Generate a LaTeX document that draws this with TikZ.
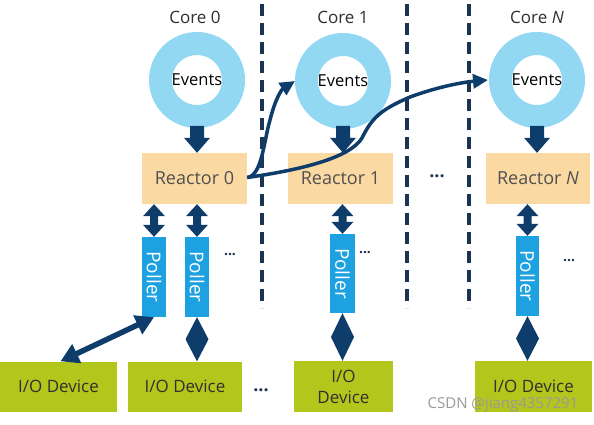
\documentclass[tikz,border=0pt]{standalone}
\usepackage{fontspec}
\setmainfont{Open Sans}
\usetikzlibrary{calc,arrows.meta}
\definecolor{navy}{HTML}{0E3C6B}
\definecolor{ringc}{HTML}{93D8F3}
\definecolor{reac}{HTML}{FBD9A2}
\definecolor{pollc}{HTML}{1DA1E0}
\definecolor{ioc}{HTML}{B3C61C}
\definecolor{txt}{HTML}{505050}
\definecolor{dtxt}{HTML}{303030}
\definecolor{sepc}{HTML}{1C3452}
\definecolor{wm}{HTML}{9A9A9A}
\newcommand{\rpArrow}[2]{\fill[navy] (#1) -- ++(11,12) -- ++(-7,0) -- ($(#2)+(4,-12)$) -- ++(7,0) -- (#2) -- ++(-11,-12) -- ++(7,0) -- ($(#1)+(-4,12)$) -- ++(-7,0) -- cycle;}
\newcommand{\pdArrow}[2]{\fill[navy] (#1) -- ($(#1)!0.5!(#2)+(11.5,0)$) -- (#2) -- ($(#1)!0.5!(#2)+(-11.5,0)$) -- cycle;}
\newcommand{\evArrow}[1]{\fill[navy] (#1) -- ++(-13,-15) -- ++(6,0) -- ++(0,-12) -- ++(14,0) -- ++(0,12) -- ++(6,0) -- cycle;}
\begin{document}
\begin{tikzpicture}[x=1pt,y=-1pt, font=\fontsize{17}{20}\selectfont,
 ring/.style={circle, draw=ringc, line width=23pt, minimum size=73pt, inner sep=0pt, text=black, font=\fontsize{16.5}{18}\selectfont},
 reactor/.style={rectangle, fill=reac, minimum width=105pt, minimum height=51pt, text=txt, inner sep=0pt, font=\fontsize{18}{20}\selectfont},
 poller/.style={rectangle, fill=pollc, minimum width=24pt, minimum height=80pt, inner sep=0pt, text=white, font=\fontsize{19}{20}\selectfont},
 io/.style={rectangle, fill=ioc, minimum height=50pt, text=dtxt, inner sep=0pt, align=center, font=\fontsize{17}{21}\selectfont},
 sep/.style={draw=sepc, line width=3.5pt, dash pattern=on 12pt off 7pt},
 flow/.style={draw=navy, line width=3.5pt, -{Triangle[length=15pt,width=14pt]}},
 core/.style={text=dtxt, font=\fontsize{17}{20}\selectfont},
 dots/.style={text=sepc, font=\fontsize{18}{20}\selectfont\bfseries},
 sdots/.style={text=sepc, font=\fontsize{14}{16}\selectfont\bfseries}]
\useasboundingbox (0,0) rectangle (594,424);
\fill[white] (0,0) rectangle (594,424);
% separators
\draw[sep] (262,4) -- (262,308);
\draw[sep] (407,4) -- (407,308);
\draw[sep] (469,4) -- (469,308);
% cores
\node[core] (c0) at (195,17) {Core 0};
\node[core] (c1) at (343,17) {Core 1};
\node[core] (cN) at (537,17) {Core \textit{N}};
\node[ring] (e0) at (197,80) {Events};
\node[ring] (e1) at (343,81) {Events};
\node[ring] (eN) at (537,80) {Events};
% reactors
\node[reactor] (r0) at (194.5,178.5) {Reactor 0};
\node[reactor] (r1) at (340.5,178.5) {Reactor 1};
\node[reactor, minimum width=104pt] (rN) at (538,178.5) {Reactor \textit{N}};
\node[dots] (dm) at (437,176) {...};
\evArrow{e0 |- r0.north}
\evArrow{e1 |- r1.north}
\evArrow{eN |- rN.north}
% pollers
\node[poller] (p00) at (154,277) {\rotatebox{-90}{Poller}};
\node[poller] (p01) at (197,277) {\rotatebox{-90}{Poller}};
\node[poller, minimum width=25pt, minimum height=79pt] (p1) at (342.5,273.5) {\rotatebox{-90}{Poller}};
\node[poller, minimum width=23pt] (pN) at (527.5,276) {\rotatebox{-90}{Poller}};
\node[sdots] (s0) at (230,255) {...};
\node[sdots] (s1) at (365,253) {...};
\node[sdots] (sN) at (569,261) {...};
\coordinate (a00) at (p00 |- r0.south);
\coordinate (a01) at (p01 |- r0.south);
\coordinate (a1) at (p1 |- r1.south);
\coordinate (aN) at (pN |- rN.south);
\rpArrow{a00}{p00.north}
\rpArrow{a01}{p01.north}
\rpArrow{a1}{p1.north}
\rpArrow{aN}{pN.north}
% io devices
\node[io, minimum width=117pt] (d00) at (58.5,386.5) {I/O Device};
\node[io, minimum width=114pt] (d01) at (185,386.5) {I/O Device};
\node[io, minimum width=99pt, minimum height=51pt] (d1) at (343.5,386.5) {I/O\\Device};
\node[io, minimum width=117pt, minimum height=51pt] (dN) at (533.5,386.5) {I/O Device};
\node[dots] (db) at (261,390) {...};
\coordinate (b01) at (p01.south |- d01.north);
\coordinate (b1) at (p1.south |- d1.north);
\coordinate (bN) at (pN.south |- dN.north);
\pdArrow{p01.south}{b01}
\pdArrow{p1.south}{b1}
\pdArrow{pN.south}{bN}
\coordinate (t00) at ([xshift=2pt]d00.north);
\draw[navy, line width=5.5pt, {Triangle[length=18pt,width=20pt]}-{Triangle[length=18pt,width=20pt]}] (p00.south) -- (t00);
% flows
\coordinate (f0) at ([yshift=1pt]r0.east);
\coordinate (f1) at ([xshift=-48pt]e1.center);
\coordinate (fN) at ([xshift=-49pt]eN.center);
\draw[flow] (f0) .. controls (262,176) and (264,140) .. (270,120) .. controls (275,100) and (281,90) .. (f1);
\draw[flow] (f0) .. controls (300,170) and (350,158) .. (362,138) .. controls (372,118) and (380,110) .. (410,97) .. controls (440,86) and (465,82) .. (fN);
% watermark
\node[text=wm, font=\fontsize{15}{17}\selectfont] (w) at (503,405) {CSDN @jiang4357291};
\end{tikzpicture}
\end{document}
